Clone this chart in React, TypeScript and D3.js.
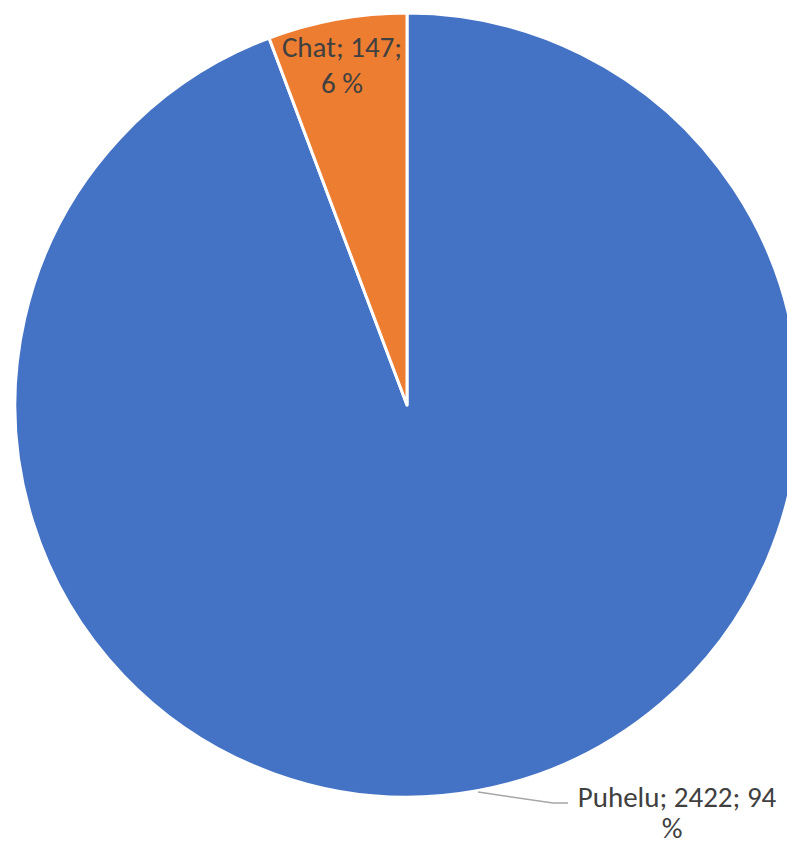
import React from "react";
import * as d3 from "d3";

const categories = ["Puhelu", "Chat"];
const values = [2422, 147];
const percentLabels = ["94 %", "6 %"];
const colors = ["#4472C4", "#ED7D31"];

export default function App() {
  const width = 787;
  const height = 842;
  const cx = 407;
  const cy = 405;
  const r = 392;

  const total = d3.sum(values);
  const chatA = (2 * Math.PI * values[1]) / total;
  const arcs = [
    { start: 0, end: 2 * Math.PI - chatA, i: 0 },
    { start: 2 * Math.PI - chatA, end: 2 * Math.PI, i: 1 },
  ];
  const arcGen = d3.arc<any>().innerRadius(0).outerRadius(r);

  const font = "Carlito, Lato, 'Open Sans', sans-serif";
  const textColor = "#404040";
  const fs = 29;

  return (
    <svg width={width} height={height} style={{ position: "absolute", left: 0, top: 0 }}>
      <rect width={width} height={height} fill="#fff" />
      <g transform={`translate(${cx},${cy})`}>
        {arcs.map((a) => (
          <path
            key={a.i}
            d={arcGen({ startAngle: a.start, endAngle: a.end }) as string}
            fill={colors[a.i]}
            stroke="#fff"
            strokeWidth={3}
            strokeLinejoin="round"
          />
        ))}
      </g>
      <text x={342} y={57} textAnchor="middle" fontFamily={font} fontSize={fs} fill={textColor}>
        {`${categories[1]}; ${values[1]};`}
      </text>
      <text x={342} y={93} textAnchor="middle" fontFamily={font} fontSize={fs} fill={textColor}>
        {percentLabels[1]}
      </text>
      <polyline
        points="478,792 553,803 568,803"
        fill="none"
        stroke="#a6a6a6"
        strokeWidth={1.5}
      />
      <text x={677} y={807} textAnchor="middle" fontFamily={font} fontSize={fs} fill={textColor}>
        {`${categories[0]}; ${values[0]}; 94`}
      </text>
      <text x={672} y={838} textAnchor="middle" fontFamily={font} fontSize={fs} fill={textColor}>
        %
      </text>
    </svg>
  );
}
